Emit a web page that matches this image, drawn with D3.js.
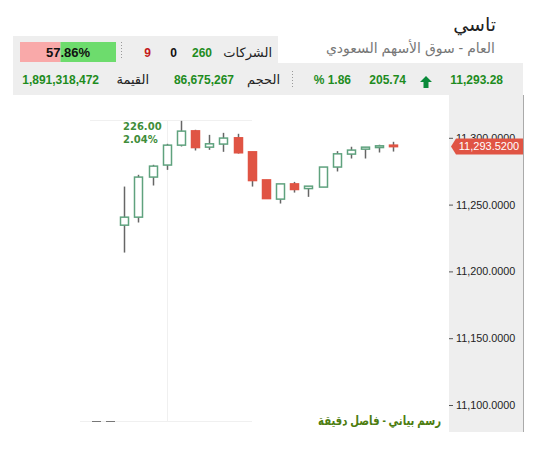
<!DOCTYPE html>
<html>
<head>
<meta charset="utf-8">
<script src="https://cdn.jsdelivr.net/npm/d3@7"></script>
<style>
  body { margin: 0; background: #fff; }
  text { font-family: "Liberation Sans", "DejaVu Sans", sans-serif; }
</style>
</head>
<body>
<svg width="535" height="450"></svg>
<script>
// candle data, one per minute
var candles = d3.range(1, 21);
var opens  = [11234.6, 11240.6, 11270.6, 11279.6, 11294.5, 11305.2, 11293.0, 11295.3, 11300.0, 11289.5, 11268.5, 11254.1, 11265.5, 11262.0, 11263.1, 11278.1, 11287.8, 11291.5, 11292.7, 11294.5];
var highs  = [11263.5, 11272.3, 11279.8, 11295.5, 11312.7, 11306.0, 11302.2, 11303.7, 11303.0, 11289.5, 11268.5, 11265.5, 11267.0, 11263.8, 11278.1, 11290.0, 11293.3, 11293.0, 11294.8, 11297.0];
var lows   = [11214.1, 11236.6, 11264.3, 11276.0, 11293.5, 11290.5, 11291.0, 11289.5, 11288.2, 11263.5, 11254.5, 11250.8, 11259.0, 11255.8, 11263.1, 11274.8, 11284.5, 11284.5, 11289.0, 11289.7];
var closes = [11240.6, 11270.6, 11278.8, 11294.5, 11305.0, 11292.7, 11295.5, 11299.8, 11288.8, 11268.0, 11254.5, 11265.5, 11261.3, 11263.8, 11278.1, 11288.0, 11290.8, 11293.0, 11294.0, 11293.52];
var yTicks = [11100, 11150, 11200, 11250, 11300];
var lastPrice = 11293.52;

var svg = d3.select("svg");
var green = "#1e8c1e";

// header
svg.append("text").attr("x", 496).attr("y", 31).attr("text-anchor", "end")
  .style("font-size", "19px").style("fill", "#222").text("تاسي");
svg.append("text").attr("x", 495).attr("y", 53).attr("text-anchor", "end")
  .style("font-size", "14px").style("fill", "#777").text("العام - سوق الأسهم السعودي");

svg.append("rect").attr("x", 13).attr("y", 36).attr("width", 265).attr("height", 27).attr("fill", "#eeeeee");
svg.append("rect").attr("x", 13).attr("y", 63).attr("width", 510).attr("height", 32).attr("fill", "#eeeeee");

// advance/decline bar
var barX = d3.scaleLinear().domain([0, 100]).range([20, 116]);
var upPct = 57.86;
svg.append("rect").attr("x", barX(0)).attr("y", 42).attr("width", barX(100 - upPct) - barX(0)).attr("height", 20).attr("fill", "#f9a9a9");
svg.append("rect").attr("x", barX(100 - upPct)).attr("y", 42).attr("width", barX(100) - barX(100 - upPct)).attr("height", 20).attr("fill", "#6ddc6d");
svg.append("text").attr("x", 68).attr("y", 57).attr("text-anchor", "middle")
  .style("font-size", "13px").style("font-weight", "bold").style("fill", "#111").text("57.86%");

function sep(x, y1, y2) {
  svg.append("line").attr("x1", x).attr("x2", x).attr("y1", y1).attr("y2", y2)
    .attr("stroke", "#999").attr("stroke-dasharray", "1,2");
}
sep(121.5, 42, 60);
sep(292.5, 71, 89);

function label(x, txt, color, y, bold) {
  svg.append("text").attr("x", x).attr("y", y).attr("text-anchor", "end")
    .style("font-size", bold ? "12px" : "13px").style("font-weight", bold ? "bold" : "normal")
    .style("fill", color).text(txt);
}
label(272, "الشركات", "#222", 57);
label(212, "260", green, 57, true);
label(177, "0", "#111", 57, true);
label(151, "9", "#c41a1a", 57, true);

label(503, "11,293.28", green, 84, true);
label(406, "205.74", green, 84, true);
label(351, "% 1.86", green, 84, true);
label(280, "الحجم", "#222", 84);
label(234, "86,675,267", green, 84, true);
label(149, "القيمة", "#222", 84);
label(99, "1,891,318,472", green, 84, true);

// up arrow
svg.append("path").attr("d", "M426,76 L432,82 L428.5,82 L428.5,88 L423.5,88 L423.5,82 L420,82 Z").attr("fill", "#0a8a3a");

// axis panel
svg.append("rect").attr("x", 449).attr("y", 95).attr("width", 74).attr("height", 337).attr("fill", "#eeeeee");
svg.append("line").attr("x1", 523.5).attr("x2", 523.5).attr("y1", 95).attr("y2", 432).attr("stroke", "#aaa");

// faint frame
var frame = svg.append("g").attr("stroke", "#f0f0f0").attr("fill", "none");
frame.append("line").attr("x1", 90).attr("x2", 252).attr("y1", 120.5).attr("y2", 120.5);
frame.append("line").attr("x1", 80).attr("x2", 252).attr("y1", 421.5).attr("y2", 421.5);
frame.append("line").attr("x1", 167.5).attr("x2", 167.5).attr("y1", 120).attr("y2", 421);
svg.append("line").attr("x1", 92).attr("x2", 101).attr("y1", 421.5).attr("y2", 421.5).attr("stroke", "#777");
svg.append("line").attr("x1", 106).attr("x2", 115).attr("y1", 421.5).attr("y2", 421.5).attr("stroke", "#777");

// scales
var x = d3.scalePoint().domain(candles).range([124.3, 393.3]);
var y = d3.scaleLinear().domain([11100, 11300]).range([405, 137.8]);

var axis = svg.append("g").attr("transform", "translate(449,0)")
  .call(d3.axisRight(y).tickValues(yTicks).tickSize(4).tickPadding(3).tickFormat(d3.format(",.4f")));
axis.select(".domain").remove();
axis.selectAll(".tick line").attr("stroke", "#555");
axis.selectAll("text").style("font-size", "10.8px").style("fill", "#222")
  .style("font-family", "'Liberation Sans', sans-serif");

// candles
var data = candles.map(function(c, i) {
  return {c: c, o: opens[i], h: highs[i], l: lows[i], cl: closes[i]};
});
var g = svg.append("g");
g.selectAll(".wick").data(data).enter().append("line")
  .attr("x1", function(d) { return Math.round(x(d.c)) + 0.5; })
  .attr("x2", function(d) { return Math.round(x(d.c)) + 0.5; })
  .attr("y1", function(d) { return y(d.h); })
  .attr("y2", function(d) { return y(d.l); })
  .attr("stroke", "#666").attr("stroke-width", 1.5);
g.selectAll(".body").data(data).enter().append("rect")
  .attr("x", function(d) { return Math.round(x(d.c)) - 3.5; })
  .attr("width", 8)
  .attr("y", function(d) { return y(Math.max(d.o, d.cl)); })
  .attr("height", function(d) { return Math.max(1.5, Math.abs(y(d.o) - y(d.cl))); })
  .attr("fill", function(d) { return d.cl >= d.o ? "#fff" : "#e05444"; })
  .attr("stroke", function(d) { return d.cl >= d.o ? "#5fa27e" : "#e05444"; })
  .attr("stroke-width", 1.5);

// change annotation
svg.append("text").attr("x", 123).attr("y", 130).style("font-size", "10px").style("font-weight", "bold")
  .style("font-family", "'DejaVu Sans', sans-serif").style("fill", "#3f8d3a").text("226.00");
svg.append("text").attr("x", 123).attr("y", 143).style("font-size", "10px").style("font-weight", "bold")
  .style("font-family", "'DejaVu Sans', sans-serif").style("fill", "#3f8d3a").text("2.04%");

// last price tag
var py = y(lastPrice);
svg.append("path").attr("d", "M451," + py + " L456," + (py - 8) + " L523," + (py - 8) + " L523," + (py + 8) + " L456," + (py + 8) + " Z")
  .attr("fill", "#e05444");
svg.append("text").attr("x", 489).attr("y", py + 4).attr("text-anchor", "middle")
  .style("font-size", "11px").style("fill", "#fff").text(d3.format(",.4f")(lastPrice));

// footer
svg.append("text").attr("x", 441).attr("y", 425).attr("text-anchor", "end")
  .attr("textLength", 123).attr("lengthAdjust", "spacingAndGlyphs")
  .style("font-size", "13px").style("font-weight", "bold").style("fill", "#4d7d10")
  .text("رسم بياني - فاصل دقيقة");
</script>
</body>
</html>
